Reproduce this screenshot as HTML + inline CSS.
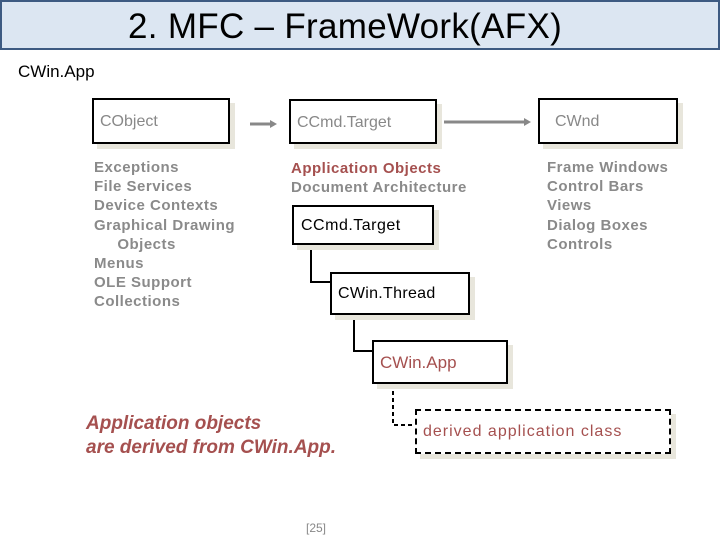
<!DOCTYPE html>
<html><head><meta charset="utf-8"><style>
body{margin:0;width:720px;height:540px;position:relative;background:#fff;font-family:"Liberation Sans",sans-serif;overflow:hidden}
.a{position:absolute;white-space:nowrap}
.box{position:absolute;border:2px solid #000;background:#fff;box-shadow:5px 5px 0 #e8e6dc;box-sizing:border-box}
.g{color:#8a8a8a;font-size:15px;line-height:19.2px;letter-spacing:0.5px;font-weight:bold}
.r{color:#a5504f}
</style></head><body>
<div class="a" style="left:0;top:0;width:716px;height:46px;background:#dce6f2;border:2px solid #3d5a82"></div>
<div class="a" style="left:128px;top:7px;font-size:35px;color:#000;letter-spacing:0.3px">2. MFC – FrameWork(AFX)</div>
<div class="a" style="left:18px;top:62px;font-size:17px">CWin.App</div>

<div class="box" style="left:92px;top:98px;width:138px;height:46px"></div>
<div class="a" style="left:100px;top:113px;font-size:16px;color:#888">CObject</div>
<div class="box" style="left:289px;top:99px;width:148px;height:45px"></div>
<div class="a" style="left:297px;top:114px;font-size:16px;color:#888">CCmd.Target</div>
<div class="box" style="left:538px;top:98px;width:140px;height:46px"></div>
<div class="a" style="left:555px;top:113px;font-size:16px;color:#888">CWnd</div>

<svg class="a" style="left:0;top:0" width="720" height="540">
<line x1="250" y1="124" x2="270" y2="124" stroke="#888" stroke-width="3"/>
<polygon points="270,120 277,124 270,128" fill="#888"/>
<line x1="444" y1="122" x2="524" y2="122" stroke="#888" stroke-width="3"/>
<polygon points="524,118 531,122 524,126" fill="#888"/>
<polyline points="311,245 311,282 330,282" fill="none" stroke="#000" stroke-width="2"/>
<polyline points="354,315 354,351 372,351" fill="none" stroke="#000" stroke-width="2"/>
<polyline points="393,384 393,425 415,425" fill="none" stroke="#000" stroke-width="2" stroke-dasharray="4,3"/>
</svg>

<div class="a g" style="left:94px;top:158px">Exceptions<br>File Services<br>Device Contexts<br>Graphical Drawing<br>&nbsp;&nbsp;&nbsp;&nbsp;&nbsp;Objects<br>Menus<br>OLE Support<br>Collections</div>
<div class="a g" style="left:291px;top:159px"><span class="r">Application Objects</span><br>Document Architecture</div>
<div class="a g" style="left:547px;top:158px">Frame Windows<br>Control Bars<br>Views<br>Dialog Boxes<br>Controls</div>

<div class="box" style="left:292px;top:205px;width:142px;height:40px"></div>
<div class="a" style="left:301px;top:217px;font-size:16px;letter-spacing:0.5px">CCmd.Target</div>
<div class="box" style="left:330px;top:272px;width:140px;height:43px"></div>
<div class="a" style="left:338px;top:285px;font-size:16px;letter-spacing:0.3px">CWin.Thread</div>
<div class="box" style="left:372px;top:340px;width:136px;height:44px"></div>
<div class="a r" style="left:380px;top:353px;font-size:17px">CWin.App</div>
<div class="box" style="left:415px;top:409px;width:256px;height:45px;border:2px dashed #000"></div>
<div class="a r" style="left:423px;top:423px;font-size:16px;letter-spacing:1px">derived application class</div>

<div class="a r" style="left:86px;top:412px;font-size:19px;font-style:italic;font-weight:bold;line-height:24px">Application objects<br>are derived from CWin.App.</div>
<div class="a" style="left:306px;top:521px;font-size:12px;color:#888">[25]</div>
</body></html>
